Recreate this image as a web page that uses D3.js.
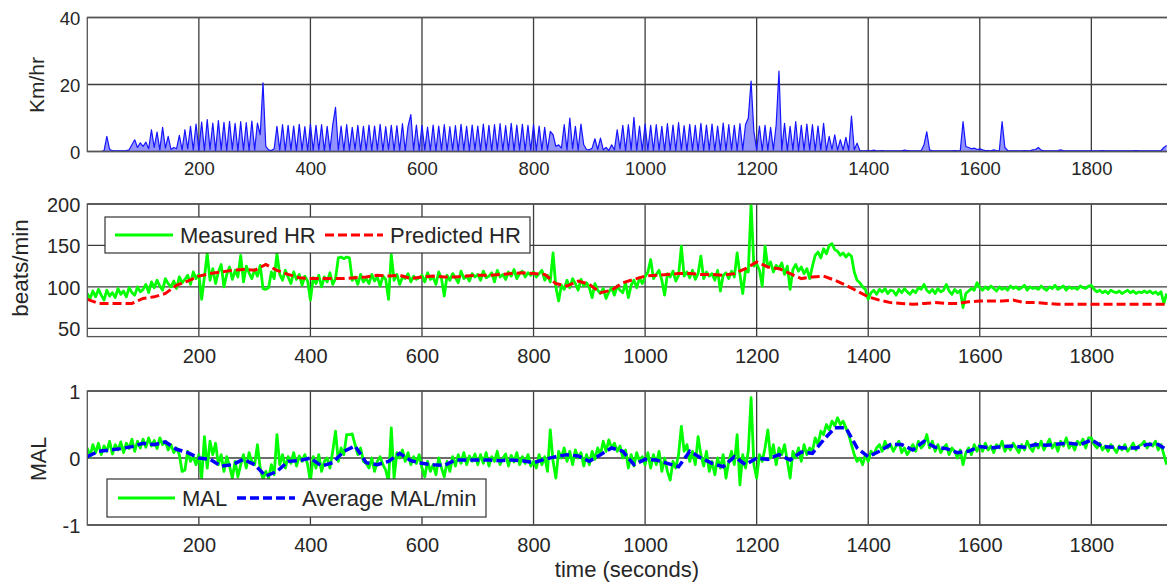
<!DOCTYPE html>
<html>
<head>
<meta charset="utf-8">
<script src="https://cdn.jsdelivr.net/npm/d3@7"></script>
<style>
  html, body { margin: 0; padding: 0; background: #fff; }
  svg { display: block; font-family: "Liberation Sans", Arial, sans-serif; }
</style>
</head>
<body>
<svg id="chart" width="1167" height="583"></svg>
<script>
// ---- data ----
// noisy series sampled every 5 s, smooth series every 20 s
const FAST_STEP = 5;
const SLOW_STEP = 20;

const xTicks = [200, 400, 600, 800, 1000, 1200, 1400, 1600, 1800];
const speedTicks = [0, 20, 40];
const hrTicks = [50, 100, 150, 200];
const malTicks = [-1, 0, 1];

// speed, km/hr
const speed = [
  0,0,0,0,0,0,0.2,4.5,0.6,0.3,0.2,0.2,0.2,0.2,0.3,0.5,2.0,3.5,1.2,2.6,
  1.5,2.8,0.8,6.5,1.2,5.8,0.5,7.2,1.0,4.5,0.6,1.2,0.8,4.8,0.5,6.5,0.8,7.5,0.5,8.2,
  0.5,8.8,0.3,9.5,0.6,8.5,0.2,9.2,0.5,8.7,0.3,9.0,0.6,8.4,0.2,8.9,0.4,8.6,0.3,9.1,
  0.5,8.5,5,20.5,1.5,0.5,0.3,0.8,7.5,0.4,8.0,0.3,7.8,0.5,7.6,0.2,8.1,0.4,7.4,0.3,
  8.2,0.3,7.8,0.5,8.0,0.2,7.5,0.4,7.9,13.2,0.5,7.6,0.3,8.0,0.4,7.2,0.6,7.8,0.3,7.5,
  0.4,7.9,0.3,7.6,0.5,8.1,0.2,7.4,0.6,7.8,0.3,7.7,0.4,8.3,0.2,7.5,11.0,0.4,7.9,0.3,
  7.8,0.5,7.3,0.3,7.9,0.2,7.6,0.4,8.0,0.3,7.4,0.5,7.7,0.2,8.1,0.4,7.5,0.3,7.9,0.5,
  7.6,0.3,8.2,0.4,7.8,0.2,8.0,0.5,8.3,0.3,7.7,0.4,8.4,0.2,7.9,0.5,8.1,0.3,7.8,0.4,
  8.0,0.3,7.6,0.5,7.2,0.4,6.0,5.0,1.5,2.0,1.0,8.0,0.5,10.0,0.8,7.5,0.4,8.2,2.0,0.6,
  0.5,1.0,3.8,0.6,4.0,0.5,1.2,0.3,2.0,0.5,6.5,0.8,7.8,0.3,8.0,0.5,10.2,0.4,7.6,0.3,
  8.2,0.4,7.8,0.3,8.0,0.5,7.5,0.2,8.3,0.4,7.9,0.3,8.6,0.5,7.7,0.2,8.1,0.4,7.8,0.3,
  8.4,0.3,7.9,0.5,8.2,0.2,7.6,0.4,8.5,0.3,8.0,0.5,7.8,0.3,8.3,0.4,8.0,10,21,6,
  0.5,7.6,0.3,7.8,0.4,7.2,0.5,8.0,24,0.4,8.4,0.3,7.5,0.5,8.9,0.3,7.8,0.4,8.2,0.5,
  8.0,0.3,7.6,0.5,8.4,0.3,4.5,0.6,5.0,0.4,3.5,0.5,4.2,0.3,10.6,0.5,2.5,0.3,0.2,0.2,
  0.3,0.2,0.4,0.2,0.2,0.3,0.2,0.2,0.2,0.2,0.2,0.2,0.2,0.4,0.3,0.2,0.2,0.2,0.2,0.3,
  2.0,5.9,0.5,0.2,0.2,0.2,0.2,0.2,0.2,0.2,0.2,0.3,0.2,0.2,8.9,1.5,1.2,0.8,1.0,0.6,
  0.8,0.5,0.3,0.3,0.2,0.5,0.3,0.2,8.9,1.2,0.3,0.2,0.2,0.2,0.2,0.2,0.3,0.2,0.2,0.5,
  0.6,1.2,0.4,0.2,0.2,0.2,0.2,0.2,0.3,0.5,0.2,0.2,0.2,0.2,0.2,0.2,0.2,0.2,0.2,0.2,
  0.2,0.2,0.2,0.2,0.3,0.2,0.2,0.2,0.2,0.2,0.2,0.2,0.2,0.2,0.2,0.2,0.3,0.2,0.2,0.2,
  0.2,0.2,0.2,0.2,0.2,0.3,1.2,1.8
];

// measured heart rate, beats/min
const hrMeasured = [
  92,86,95,88,97,90,84,96,89,93,87,98,91,95,88,99,93,90,100,94,
  97,103,93,106,99,108,101,96,110,104,100,107,98,112,105,109,114,103,118,110,
  115,85,112,140,108,122,104,118,127,100,115,124,109,120,112,138,106,125,117,110,
  121,113,126,98,97,99,118,110,140,115,108,120,112,104,118,109,115,102,113,107,
  84,111,104,114,100,112,106,117,103,110,135,136,134,136,135,108,112,103,115,106,
  110,104,115,107,112,101,113,109,85,139,108,115,103,112,110,116,106,113,109,111,
  114,106,117,109,112,103,118,110,89,114,108,116,111,105,119,110,113,107,116,112,
  115,108,119,111,113,117,106,120,112,115,109,118,113,121,110,116,119,112,117,114,
  118,112,116,120,108,114,106,141,100,83,102,97,108,99,110,104,96,109,101,105,
  99,87,104,96,92,98,86,94,99,90,101,96,93,105,87,102,108,99,111,104,
  112,118,133,110,115,120,108,90,116,112,119,107,114,149,113,118,111,120,109,116,
  137,110,118,113,116,108,120,95,114,117,110,119,112,141,115,92,120,118,200,125,
  128,120,101,149,124,130,118,126,122,129,115,125,97,121,127,119,124,116,122,110,
  125,138,142,135,146,140,150,152,145,143,138,141,136,140,137,118,108,105,100,97,
  85,93,96,91,97,94,98,92,96,95,90,97,93,98,94,91,96,93,99,97,
  103,96,93,97,92,98,94,96,103,95,91,97,93,96,75,92,95,98,96,105,
  99,96,100,97,101,98,95,100,97,99,96,101,98,100,97,99,102,96,100,98,
  99,97,101,98,96,100,98,102,97,99,101,96,100,98,99,97,101,99,98,101,
  102,97,94,96,93,95,92,96,94,93,95,92,94,96,93,95,92,94,93,95,
  93,95,92,94,91,94,80,92
];

// predicted heart rate, beats/min (every 20 s)
const hrPredicted = [
  85,80,80,80,80,86,88,92,102,107,113,116,118,120,121,120,127,120,115,111,
  110,110,110,110,111,112,114,113,114,110,112,113,112,112,113,114,114,115,116,117,
  116,115,104,101,107,103,93,96,105,109,113,114,115,116,116,115,115,114,116,122,
  130,124,122,116,110,112,113,108,102,95,88,84,81,80,79,80,81,80,80,82,
  83,83,83,84,81,81,80,79,79,79,79,79,79,79,79,79,79,79
];

// MAL, every 5 s
const malRaw = [
  0.15,0.02,0.2,0.08,0.22,0.05,0.18,0.1,0.25,0.06,0.2,0.12,0.24,0.08,0.22,0.14,0.28,0.1,0.25,0.15,
  0.28,0.16,0.3,0.18,0.26,0.14,0.3,0.2,0.25,0.12,0.2,0.08,0.15,0.05,-0.2,-0.18,0.1,-0.05,0.02,-0.1,
  0.05,-0.3,0.32,-0.15,0.25,0.05,0.22,-0.1,0.05,-0.2,0.02,-0.12,-0.3,-0.05,-0.28,-0.1,0.05,-0.15,0.08,-0.05,
  -0.1,0.2,-0.15,-0.32,-0.2,-0.3,-0.1,-0.25,0.35,-0.1,0.05,-0.15,0.02,-0.08,0.08,-0.12,0.03,-0.05,0.05,-0.1,
  -0.35,0.02,-0.15,0.05,-0.2,-0.05,0.0,-0.15,0.1,0.4,-0.05,0.15,0.05,0.35,0.35,0.36,0.2,0.05,0.15,-0.05,
  -0.08,-0.15,0.0,-0.2,-0.05,0.02,-0.1,-0.18,-0.35,0.45,-0.3,0.08,0.0,0.12,-0.05,0.08,-0.1,0.02,-0.08,0.05,
  -0.15,-0.28,-0.05,-0.2,-0.1,-0.25,0.0,-0.15,-0.28,-0.05,-0.2,0.02,-0.12,0.05,-0.08,0.08,-0.1,0.03,-0.05,0.06,
  -0.1,0.05,-0.08,0.08,-0.12,0.02,-0.05,0.1,-0.1,0.0,0.06,-0.12,0.04,-0.06,0.08,-0.1,0.02,-0.08,0.05,-0.12,
  -0.05,-0.15,0.05,-0.1,0.02,-0.2,0.42,-0.05,-0.3,0.1,0.0,0.15,-0.05,0.1,-0.1,0.12,0.0,0.08,-0.12,0.05,
  -0.1,0.1,-0.02,0.15,0.05,0.25,0.1,0.27,0.15,0.22,0.1,0.18,0.0,0.12,-0.15,0.05,-0.12,0.08,-0.05,0.02,
  -0.1,0.08,-0.15,0.05,-0.1,0.1,-0.2,0.0,-0.2,-0.33,-0.05,-0.15,0.05,0.47,0.1,0.2,-0.05,0.1,-0.1,0.32,
  0.05,-0.12,0.1,-0.2,-0.05,-0.25,0.0,-0.15,0.05,-0.3,-0.05,0.1,-0.1,0.35,-0.4,0.05,-0.15,0.1,0.9,-0.1,
  -0.3,0.05,-0.05,0.15,0.42,0.0,0.2,-0.1,0.15,0.05,0.2,-0.05,-0.3,0.1,0.0,0.15,-0.05,0.2,0.05,0.15,
  0.1,0.3,0.2,0.4,0.35,0.5,0.42,0.55,0.48,0.6,0.5,0.55,0.45,0.35,0.2,0.05,-0.05,0.0,-0.1,0.05,
  -0.05,0.1,0.05,0.15,0.2,0.1,0.25,0.15,0.2,0.1,0.18,0.25,0.08,0.15,0.05,0.12,0.2,0.1,0.25,0.15,
  0.2,0.35,0.15,0.25,0.1,0.2,0.08,0.15,0.2,0.05,0.15,0.1,0.0,0.12,-0.1,0.08,0.15,0.05,0.2,0.1,
  0.2,0.1,0.22,0.12,0.18,0.08,0.2,0.15,0.25,0.1,0.18,0.12,0.22,0.15,0.08,0.2,0.12,0.25,0.15,0.1,
  0.22,0.15,0.25,0.12,0.2,0.28,0.15,0.22,0.1,0.25,0.18,0.3,0.15,0.22,0.12,0.25,0.2,0.28,0.15,0.3,
  0.3,0.2,0.15,0.22,0.12,0.18,0.1,0.2,0.15,0.08,0.18,0.12,0.2,0.1,0.15,0.22,0.12,0.18,0.2,0.25,
  0.15,0.22,0.18,0.25,0.12,0.2,0.05,-0.1
];

// average MAL per minute (every 20 s)
const malAvg = [
  0.02,0.1,0.12,0.14,0.17,0.22,0.2,0.24,0.13,0.08,0,-0.02,-0.12,-0.1,-0.02,-0.1,-0.27,-0.2,-0.05,-0.04,
  0,-0.12,-0.07,0.1,0.18,-0.07,-0.1,-0.05,0.07,-0.04,-0.08,-0.1,-0.11,-0.03,-0.03,-0.03,-0.03,-0.04,-0.03,-0.04,
  -0.07,-0.02,0.02,0.05,0.03,-0.05,0.05,0.15,0.1,-0.1,-0.02,-0.03,-0.08,-0.13,0.1,0,-0.08,-0.13,0.02,-0.1,
  0,-0.02,0.05,-0.03,0.09,0.07,0.27,0.45,0.45,0.15,0.02,0.1,0.2,0.2,0.12,0.25,0.16,0.14,0.08,0.1,
  0.17,0.15,0.17,0.18,0.16,0.2,0.19,0.21,0.22,0.2,0.27,0.17,0.16,0.15,0.15,0.2,0.2,0.1
];

// ---- layout ----
const svg = d3.select("#chart");
const TEXT = "#262626";
const GRID = "#3c3c3c";

const left = 87.3, right = 1168;
const x = d3.scaleLinear().domain([0, (right - left) / 0.5578]).range([left, right]);

const panels = [
  { id: "p1", y: d3.scaleLinear().domain([0, 40]).range([151.5, 17.5]), ticks: speedTicks,
    xLabelY: 175, tickFont: 18.5, yLabel: "Km/hr", yLabelPos: [44, 85], yLabelFont: 21 },
  { id: "p2", y: d3.scaleLinear().domain([40, 200]).range([336.6, 204]), ticks: hrTicks,
    xLabelY: 363, tickFont: 20, yLabel: "beats/min", yLabelPos: [28, 268], yLabelFont: 22.5 },
  { id: "p3", y: d3.scaleLinear().domain([-1, 1]).range([525, 391]), ticks: malTicks,
    xLabelY: 552, tickFont: 20, yLabel: "MAL", yLabelPos: [46, 459], yLabelFont: 21.5 }
];

svg.append("rect").attr("width", 1167).attr("height", 583).attr("fill", "#fff");

const defs = svg.append("defs");
const fmt = (d) => String(d);

panels.forEach((p) => {
  const [yb, yt] = p.y.range();
  defs.append("clipPath").attr("id", "clip-" + p.id)
    .append("rect").attr("x", left).attr("y", yt).attr("width", right - left).attr("height", yb - yt);

  const g = svg.append("g").attr("class", p.id);
  p.g = g;

  // grid lines
  g.append("g").selectAll("line").data(xTicks).join("line")
    .attr("x1", (d) => x(d)).attr("x2", (d) => x(d))
    .attr("y1", yt).attr("y2", yb)
    .attr("stroke", GRID).attr("stroke-width", 1.3);
  g.append("g").selectAll("line").data(p.ticks).join("line")
    .attr("x1", left).attr("x2", right)
    .attr("y1", (d) => p.y(d)).attr("y2", (d) => p.y(d))
    .attr("stroke", GRID).attr("stroke-width", 1.3);

  p.plot = g.append("g").attr("clip-path", `url(#clip-${p.id})`);

  // axis box
  g.append("rect").attr("x", left).attr("y", yt).attr("width", right - left).attr("height", yb - yt)
    .attr("fill", "none").attr("stroke", "#555").attr("stroke-width", 1.3);

  // x tick labels
  g.append("g")
    .attr("transform", `translate(0,${p.xLabelY})`)
    .call(d3.axisBottom(x).tickValues(xTicks).tickSize(0).tickPadding(0).tickFormat(fmt))
    .call((s) => s.select(".domain").remove())
    .call((s) => s.selectAll("text").attr("dy", 0).attr("y", 0)
      .attr("fill", TEXT).attr("font-size", p.tickFont)
      .attr("font-family", "'Liberation Sans', Arial, sans-serif"));

  // y tick labels
  g.append("g")
    .attr("transform", `translate(${left - 7},0)`)
    .call(d3.axisLeft(p.y).tickValues(p.ticks).tickSize(0).tickPadding(0).tickFormat(fmt))
    .call((s) => s.select(".domain").remove())
    .call((s) => s.selectAll("text").attr("dy", "0.36em")
      .attr("fill", TEXT).attr("font-size", p.tickFont)
      .attr("font-family", "'Liberation Sans', Arial, sans-serif"));

  // y label
  g.append("text")
    .attr("transform", `translate(${p.yLabelPos[0]},${p.yLabelPos[1]}) rotate(-90)`)
    .attr("text-anchor", "middle")
    .attr("fill", TEXT).attr("font-size", p.yLabelFont)
    .text(p.yLabel);
});

// ---- series ----
const fastLine = (yScale) => d3.line().x((d, i) => x(i * FAST_STEP)).y((d) => yScale(d));
const slowLine = (yScale) => d3.line().x((d, i) => x(i * SLOW_STEP)).y((d) => yScale(d));

const [p1, p2, p3] = panels;

// speed: fill under the trace so the dense strokes read as a band
p1.plot.append("path").datum(speed)
  .attr("d", d3.area().x((d, i) => x(i * FAST_STEP)).y0(p1.y(0)).y1((d) => p1.y(d)))
  .attr("fill", "#2828ff").attr("fill-opacity", 0.5);
p1.plot.append("path").datum(speed)
  .attr("d", fastLine(p1.y))
  .attr("fill", "none").attr("stroke", "#1515ff").attr("stroke-width", 1.2).attr("stroke-linejoin", "round");

p2.plot.append("path").datum(hrMeasured)
  .attr("d", fastLine(p2.y))
  .attr("fill", "none").attr("stroke", "#00ff00").attr("stroke-width", 2.8).attr("stroke-linejoin", "round");
p2.plot.append("path").datum(hrPredicted)
  .attr("d", slowLine(p2.y))
  .attr("fill", "none").attr("stroke", "#ff0000").attr("stroke-width", 3).attr("stroke-dasharray", "9,4");

p3.plot.append("path").datum(malRaw)
  .attr("d", fastLine(p3.y))
  .attr("fill", "none").attr("stroke", "#00ff00").attr("stroke-width", 2.8).attr("stroke-linejoin", "round");
p3.plot.append("path").datum(malAvg)
  .attr("d", slowLine(p3.y))
  .attr("fill", "none").attr("stroke", "#0000ff").attr("stroke-width", 3.5).attr("stroke-dasharray", "9,4");

// ---- legends ----
function legend(g, box, items) {
  const lg = g.append("g");
  lg.append("rect").attr("x", box.x).attr("y", box.y).attr("width", box.w).attr("height", box.h)
    .attr("fill", "#fff").attr("stroke", "#333").attr("stroke-width", 1.2);
  const cy = box.y + box.h / 2;
  items.forEach((it) => {
    lg.append("line").attr("x1", it.x1).attr("x2", it.x2).attr("y1", cy).attr("y2", cy)
      .attr("stroke", it.color).attr("stroke-width", it.width)
      .attr("stroke-dasharray", it.dash || null);
    lg.append("text").attr("x", it.tx).attr("y", cy).attr("dy", "0.36em")
      .attr("fill", TEXT).attr("font-size", 22).text(it.label);
  });
}

legend(p2.g, { x: 105, y: 217, w: 425, h: 36 }, [
  { x1: 115, x2: 173, color: "#00ff00", width: 3, tx: 180, label: "Measured HR" },
  { x1: 325, x2: 383, color: "#ff0000", width: 3, dash: "9,4", tx: 390, label: "Predicted HR" }
]);

legend(p3.g, { x: 107, y: 479, w: 379, h: 38 }, [
  { x1: 118, x2: 175, color: "#00ff00", width: 3, tx: 182, label: "MAL" },
  { x1: 237, x2: 295, color: "#0000ff", width: 3.5, dash: "9,4", tx: 302, label: "Average MAL/min" }
]);

// x axis title
svg.append("text")
  .attr("x", 627).attr("y", 577)
  .attr("text-anchor", "middle")
  .attr("fill", TEXT).attr("font-size", 22)
  .text("time (seconds)");
</script>
</body>
</html>
